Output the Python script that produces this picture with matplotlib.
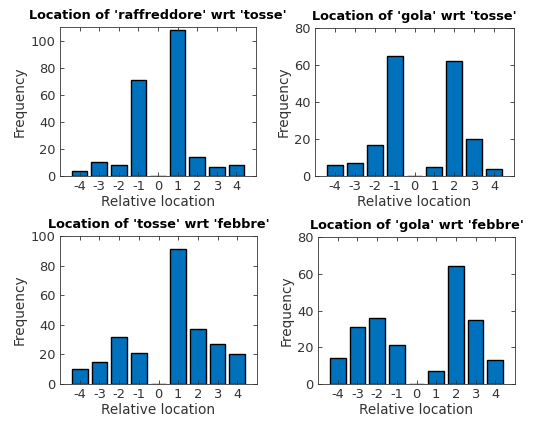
import matplotlib
matplotlib.use("Agg")
import matplotlib.pyplot as plt

plt.rcParams['axes.unicode_minus'] = False

# relative positions of the word around the anchor term
offsets = [-4, -3, -2, -1, 0, 1, 2, 3, 4]

raffreddore_tosse = [4, 10, 8, 71, 0, 108, 14, 7, 8]
gola_tosse = [6, 7, 17, 65, 0, 5, 62, 20, 4]
tosse_febbre = [10, 15, 32, 21, 0, 91, 37, 27, 20]
gola_febbre = [14, 31, 36, 21, 0, 7, 64, 35, 13]

panels = [
    ("Location of 'raffreddore' wrt 'tosse'", raffreddore_tosse, 110, [0, 20, 40, 60, 80, 100]),
    ("Location of 'gola' wrt 'tosse'", gola_tosse, 80, [0, 20, 40, 60, 80]),
    ("Location of 'tosse' wrt 'febbre'", tosse_febbre, 100, [0, 20, 40, 60, 80, 100]),
    ("Location of 'gola' wrt 'febbre'", gola_febbre, 80, [0, 20, 40, 60, 80]),
]

# axes boxes in pixels: left, top, right, bottom
boxes = [(60, 27, 256, 176), (315, 28, 514, 176),
         (60, 236, 257, 384), (318, 237, 515, 384)]

W, H = 534, 422
AX_GREY = '#333333'

fig = plt.figure(figsize=(W / 100, H / 100), dpi=100)

for (title, counts, ymax, yticks), (l, t, r, b) in zip(panels, boxes):
    ax = fig.add_axes([l / W, 1 - b / H, (r - l) / W, (b - t) / H])
    ax.bar(offsets, counts, width=0.8, color='#0072BD', edgecolor='black', linewidth=1.0)
    ax.set_xlim(-5, 5)
    ax.set_ylim(0, ymax)
    ax.set_xticks(offsets)
    ax.set_yticks(yticks)
    ax.tick_params(direction='in', length=3, width=0.6, colors=AX_GREY,
                   labelsize=9.4, top=True, right=True, pad=3)
    for sp in ax.spines.values():
        sp.set_color(AX_GREY)
        sp.set_linewidth(0.6)
    ax.set_xlabel('Relative location', fontsize=9.8, color=AX_GREY, labelpad=1)
    ax.set_ylabel('Frequency', fontsize=9.8, color=AX_GREY, labelpad=3)
    ax.set_title(title, fontsize=9.3, fontweight='bold', pad=5.5)

fig.savefig('out.png', dpi=100)
